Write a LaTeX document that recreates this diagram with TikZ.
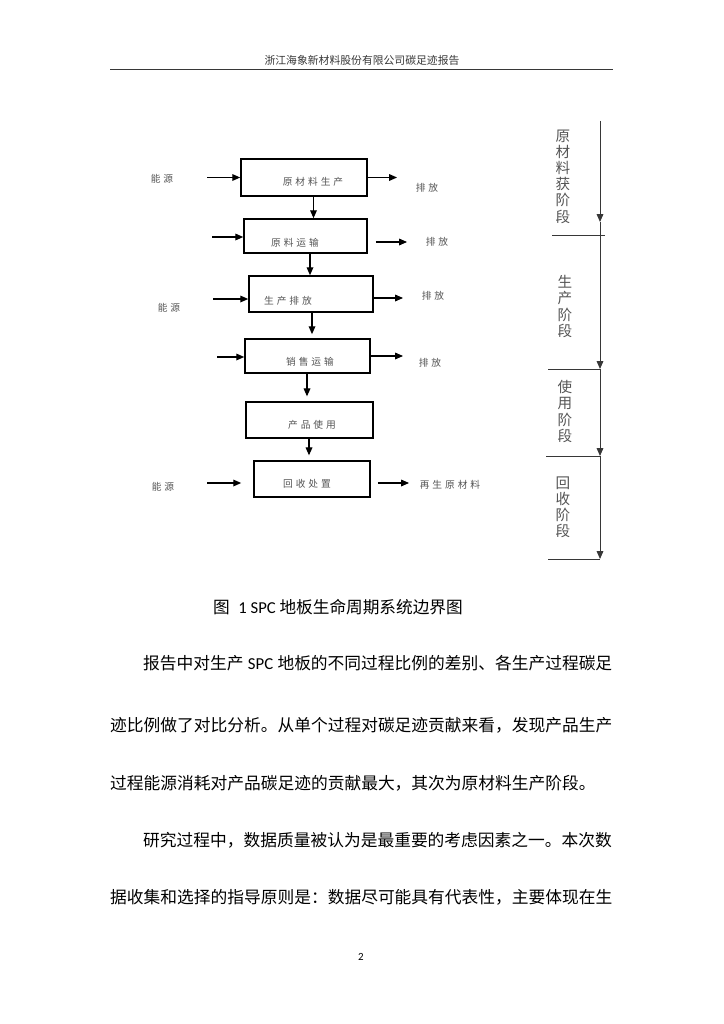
\documentclass[tikz,border=0pt]{standalone}
\usepackage{fontspec}
\setmainfont{Noto Sans CJK SC}
\newfontfamily\latin{Carlito}
\newfontfamily\flowfont[LetterSpace=30]{Noto Sans CJK SC}
\usepackage{xcolor}
\definecolor{txtgray}{RGB}{85,85,85}
\definecolor{linegray}{RGB}{55,55,55}
\usetikzlibrary{arrows.meta, calc, positioning}

\tikzset{
    box/.style={draw=black, line width=1.3pt, rectangle, inner sep=0pt},
    arr/.style={-{Triangle[length=6.5pt,width=5.5pt]}, line width=0.9pt},
    flowtxt/.style={text=txtgray, inner sep=0pt, font=\flowfont\fontsize{8pt}{9pt}\selectfont},
    stagetxt/.style={text=txtgray, inner sep=0pt, align=center, font=\fontsize{12pt}{13.3pt}\selectfont},
    bodytxt/.style={anchor=west, inner sep=0pt, font=\fontsize{13.76pt}{16pt}\selectfont},
}

\begin{document}
\begin{tikzpicture}[x=0.8222pt, y=-0.8222pt]
    \fill[white] (0,0) rectangle (724,1024);
    \useasboundingbox (0,0) rectangle (724,1024);
    % Page header
    \node[text=linegray, font=\fontsize{8.9pt}{10pt}\selectfont] (hdr) at (362,60) {浙江海象新材料股份有限公司碳足迹报告};
    \draw[linegray, line width=0.8pt] (110,69) -- (613,69);
    % Process boxes
    \foreach \n/\cx/\cy/\w/\h in {1/304/177.5/103.6/30.4, 2/305.5/236/101.1/28, 3/311/294/102/29.6,
                                  4/307.5/356/102.8/28, 5/309.5/420/104.4/29.6, 6/312/479/95.4/29.6} {
        \node[box, minimum width=\w pt, minimum height=\h pt] (b\n) at (\cx,\cy) {};
    }
    \foreach \n/\tx/\ty/\t in {1/313/182/原材料生产, 2/295/243/原料运输, 3/288/301/生产排放,
                               4/310/362/销售运输, 5/312/425/产品使用, 6/307/484/回收处置} {
        \node[flowtxt] (t\n) at (\tx,\ty) {\t};
    }
    % Flow downwards
    \draw[arr] ($(b1.south)+(9.5,0)$) -- ($(b2.north)+(8,0)$);
    \draw[arr] ($(b2.south)+(4.5,0)$) -- ($(b3.north)+(-1,0)$);
    \draw[arr, shorten >=3.3pt] ($(b3.south)+(1,0)$) -- ($(b4.north)+(4.5,0)$);
    \draw[arr, shorten >=4pt] ($(b4.south)+(-0.5,0)$) -- ($(b5.north)+(-2.5,0)$);
    \draw[arr, shorten >=4pt] ($(b5.south)+(-0.5,0)$) -- ($(b6.north)+(-3,0)$);
    % Energy in
    \node[flowtxt] (e1) at (162,179) {能源};
    \node[flowtxt] (e3) at (169,308) {能源};
    \node[flowtxt] (e6) at (163,487) {能源};
    \coordinate (in1) at (207,177.5);
    \coordinate (in2) at (212,237);
    \coordinate (in3) at (213,299);
    \coordinate (in4) at (217,357);
    \coordinate (in6) at (207,483);
    \draw[arr] (in1) -- (in1 -| b1.west);
    \draw[arr] (in2) -- (in2 -| b2.west);
    \draw[arr] (in3) -- (in3 -| b3.west);
    \draw[arr] (in4) -- (in4 -| b4.west);
    \draw[arr, shorten >=9.9pt] (in6) -- (in6 -| b6.west);
    % Emissions out
    \node[flowtxt] (o1) at (427,188) {排放};
    \node[flowtxt] (o2) at (437,242) {排放};
    \node[flowtxt] (o3) at (433,296) {排放};
    \node[flowtxt] (o4) at (430,363) {排放};
    \node[flowtxt] (o6) at (450,485) {再生原材料};
    \coordinate (out1) at (397,177.5);
    \coordinate (out2) at (407,242);
    \coordinate (out3) at (403,298);
    \coordinate (out4) at (403,356);
    \coordinate (out6) at (409,483);
    \draw[arr] (out1 -| b1.east) -- (out1);
    \draw[arr, shorten <=6.6pt] (out2 -| b2.east) -- (out2);
    \draw[arr] (out3 -| b3.east) -- (out3);
    \draw[arr] (out4 -| b4.east) -- (out4);
    \draw[arr, shorten <=5.8pt] (out6 -| b6.east) -- (out6);
    % Stage column
    \coordinate (s0) at (600,121);
    \coordinate (s1) at (600,222);
    \coordinate (s2) at (600,369);
    \coordinate (s3) at (600,456);
    \coordinate (s4) at (600,559);
    \draw[arr, linegray, line width=0.8pt] (s0) -- (s1);
    \draw[arr, linegray, line width=0.8pt] (s1) -- (s2);
    \draw[arr, linegray, line width=0.8pt] (s2) -- (s3);
    \draw[arr, linegray, line width=0.8pt] (s3) -- (s4);
    \foreach \y/\xa/\xb in {235/552/605, 369/548/600, 456/546/600, 559/548/600} {
        \draw[linegray, line width=0.8pt] (\xa,\y) -- (\xb,\y);
    }
    \node[stagetxt] (g1) at (563,176.5) {原\\材\\料\\获\\阶\\段};
    \node[stagetxt] (g2) at (565,306.5) {生\\产\\阶\\段};
    \node[stagetxt] (g3) at (565,411.5) {使\\用\\阶\\段};
    \node[stagetxt] (g4) at (563,507.5) {回\\收\\阶\\段};
    % Caption and text
    \node[anchor=west, inner sep=0pt, font=\fontsize{13.7pt}{15pt}\selectfont] (cap) at (213,607)
        {图\hspace{7pt}{\latin 1 SPC} 地板生命周期系统边界图};
    \node[bodytxt] (l1) at (143,663) {\makebox[385.6pt][s]{报告中对生产\hfill{\latin SPC}\hfill 地板的不同过程比例的差别、各生产过程碳足}};
    \node[bodytxt] (l2) at (110,725) {迹比例做了对比分析。从单个过程对碳足迹贡献来看，发现产品生产};
    \node[bodytxt] (l3) at (110,783) {过程能源消耗对产品碳足迹的贡献最大，其次为原材料生产阶段。};
    \node[bodytxt] (l4) at (143,840) {研究过程中，数据质量被认为是最重要的考虑因素之一。本次数};
    \node[bodytxt] (l5) at (110,897) {据收集和选择的指导原则是：数据尽可能具有代表性，主要体现在生};
    \node[font=\latin\fontsize{9pt}{10pt}\selectfont] (pg) at (361,957) {2};
\end{tikzpicture}
\end{document}
